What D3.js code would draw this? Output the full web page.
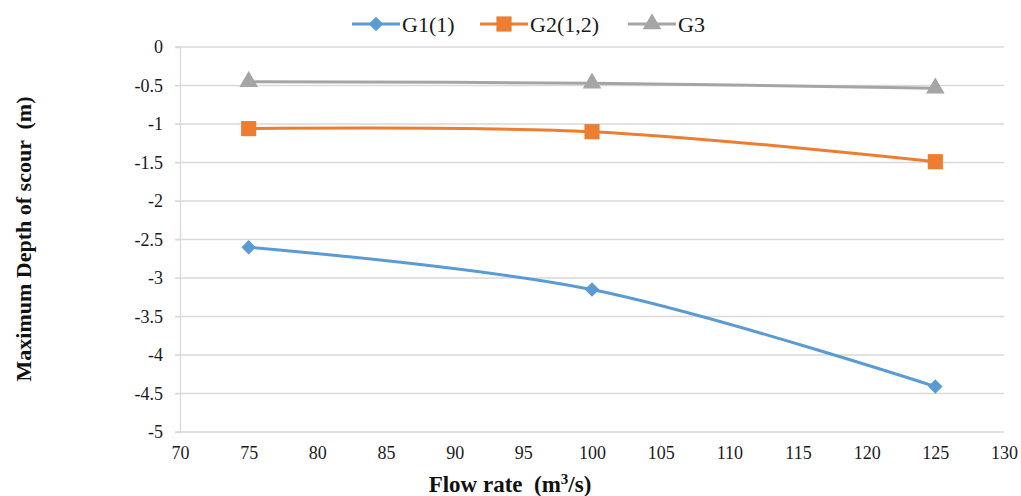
<!DOCTYPE html>
<meta charset="utf-8">
<title>Maximum depth of scour</title>
<style>
  body { margin: 0; background: #fff; }
  .axis-title { font-family: "Liberation Serif", "Times New Roman", serif; font-weight: bold; fill: #111; white-space: pre; }
  .legend text { font-family: "Liberation Serif", "Times New Roman", serif; font-size: 22px; fill: #1a1a1a; }
</style>
<body>
<svg width="1021" height="496"></svg>
<script src="https://d3js.org/d3.v7.min.js"></script>
<script>
  // data
  var flowRates = [75, 100, 125];
  var g1 = [-2.6, -3.15, -4.41];
  var g2 = [-1.06, -1.1, -1.49];
  var g3 = [-0.45, -0.47, -0.535];
  var seriesNames = ["G1(1)", "G2(1,2)", "G3"];

  var series = [
    { name: seriesNames[0], values: g1, color: "#5b9bd5", marker: d3.symbolSquare, size: 105, rotate: 45 },
    { name: seriesNames[1], values: g2, color: "#ed7d31", marker: d3.symbolSquare, size: 230, rotate: 0 },
    { name: seriesNames[2], values: g3, color: "#a5a5a5", marker: d3.symbolTriangle, size: 150, rotate: 0 }
  ];

  const svg = d3.select("svg");
  const plotLeft = 180, plotRight = 1004, plotTop = 47, plotBottom = 432;
  const serif = "'Liberation Serif', 'Times New Roman', serif";

  var x = d3.scaleLinear().domain([70, 130]).range([plotLeft, plotRight]);
  var y = d3.scaleLinear().domain([-5, 0]).range([plotBottom, plotTop]);

  // horizontal gridlines
  svg.append("g")
    .selectAll("line")
    .data(y.ticks(10))
    .enter().append("line")
    .attr("x1", plotLeft - 5)
    .attr("x2", plotRight)
    .attr("y1", d => y(d))
    .attr("y2", d => y(d))
    .attr("stroke", "#d9d9d9")
    .attr("stroke-width", 1.3);

  // y axis
  var yAxis = svg.append("g")
    .attr("transform", `translate(${plotLeft},0)`)
    .call(d3.axisLeft(y).ticks(10).tickSize(5).tickPadding(12).tickFormat(d => String(d)));
  yAxis.select(".domain").attr("stroke", "#d9d9d9").attr("stroke-width", 1.3);
  yAxis.selectAll(".tick line").attr("stroke", "#d9d9d9");

  // x axis
  var xAxis = svg.append("g")
    .attr("transform", `translate(0,${plotBottom})`)
    .call(d3.axisBottom(x).ticks(12).tickSize(0).tickPadding(14).tickFormat(d => String(d)));
  xAxis.select(".domain").remove();

  svg.selectAll(".tick text")
    .style("font-family", serif)
    .style("font-size", "18px")
    .style("fill", "#1a1a1a");

  // lines
  var line = d3.line()
    .x((d, i) => x(flowRates[i]))
    .y(d => y(d))
    .curve(d3.curveCatmullRom.alpha(0.5));

  series.forEach(function (s) {
    svg.append("path")
      .datum(s.values)
      .attr("d", line)
      .attr("fill", "none")
      .attr("stroke", s.color)
      .attr("stroke-width", 3);

    svg.append("g")
      .selectAll("path")
      .data(s.values)
      .enter().append("path")
      .attr("transform", (d, i) => `translate(${x(flowRates[i])},${y(d)}) rotate(${s.rotate})`)
      .attr("d", d3.symbol().type(s.marker).size(s.size))
      .attr("fill", s.color);
  });

  // legend
  var legendX = [352, 480, 628];
  var legend = svg.append("g").attr("class", "legend");
  series.forEach(function (s, i) {
    var g = legend.append("g").attr("transform", `translate(${legendX[i]},24)`);
    g.append("line")
      .attr("x1", 0).attr("x2", 48)
      .attr("stroke", s.color).attr("stroke-width", 3);
    g.append("path")
      .attr("transform", `translate(24,0) rotate(${s.rotate})`)
      .attr("d", d3.symbol().type(s.marker).size(s.size))
      .attr("fill", s.color);
    g.append("text")
      .attr("x", 50)
      .attr("dy", "0.35em")
      .text(s.name);
  });

  // axis titles
  svg.append("text")
    .attr("class", "axis-title")
    .attr("font-size", 22)
    .attr("transform", "translate(31,239) rotate(-90)")
    .attr("text-anchor", "middle")
    .text("Maximum Depth of scour  (m)");

  var xt = svg.append("text")
    .attr("class", "axis-title")
    .attr("font-size", 23)
    .attr("x", 510)
    .attr("y", 492)
    .attr("text-anchor", "middle");
  xt.append("tspan").text("Flow rate  (m");
  xt.append("tspan").attr("dy", -8).attr("font-size", 15).text("3");
  xt.append("tspan").attr("dy", 8).text("/s)");
</script>
</body>
